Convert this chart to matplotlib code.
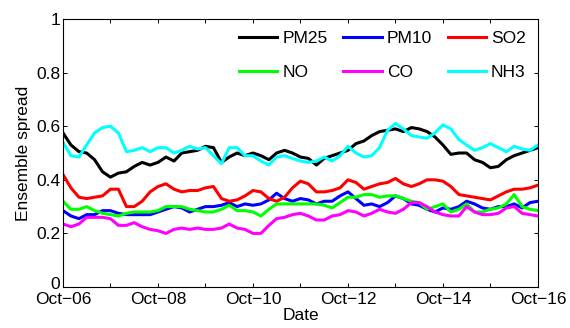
import numpy as np
import pandas as pd
import matplotlib
matplotlib.use('Agg')
import matplotlib.pyplot as plt
import matplotlib.transforms as mtransforms

plt.rcParams['font.family'] = ['Liberation Sans', 'DejaVu Sans']

# two-monthly samples, Oct 2006 .. Oct 2016
dates = pd.date_range('2006-10-01', periods=61, freq='2MS')

pm25 = [0.575, 0.53, 0.505, 0.50, 0.475, 0.43, 0.41, 0.425, 0.43, 0.45, 0.465, 0.455, 0.465, 0.485, 0.47, 0.50,
        0.505, 0.51, 0.525, 0.52, 0.465, 0.485, 0.50, 0.49, 0.50, 0.49, 0.475, 0.50, 0.51, 0.50, 0.485,
        0.48, 0.455, 0.48, 0.49, 0.50, 0.51, 0.535, 0.545, 0.565, 0.58, 0.585, 0.59, 0.58, 0.595, 0.59,
        0.58, 0.56, 0.53, 0.495, 0.50, 0.50, 0.475, 0.465, 0.445, 0.45, 0.475, 0.49, 0.50, 0.51, 0.52]
pm10 = [0.285, 0.265, 0.255, 0.27, 0.27, 0.285, 0.285, 0.275, 0.27, 0.27, 0.27, 0.27, 0.28, 0.29, 0.30, 0.295,
        0.28, 0.29, 0.30, 0.30, 0.305, 0.315, 0.30, 0.31, 0.305, 0.31, 0.325, 0.35, 0.33, 0.32, 0.33,
        0.325, 0.31, 0.32, 0.32, 0.34, 0.355, 0.33, 0.305, 0.31, 0.30, 0.315, 0.34, 0.33, 0.31, 0.305,
        0.29, 0.28, 0.295, 0.29, 0.30, 0.32, 0.31, 0.295, 0.29, 0.30, 0.30, 0.31, 0.295, 0.315, 0.32]
so2 = [0.42, 0.37, 0.335, 0.33, 0.335, 0.34, 0.365, 0.365, 0.30, 0.30, 0.32, 0.355, 0.375, 0.385, 0.365, 0.355,
       0.36, 0.36, 0.37, 0.375, 0.33, 0.32, 0.325, 0.34, 0.36, 0.355, 0.33, 0.32, 0.335, 0.37, 0.395,
       0.385, 0.355, 0.355, 0.36, 0.37, 0.40, 0.39, 0.365, 0.375, 0.385, 0.39, 0.405, 0.385, 0.375, 0.385,
       0.40, 0.40, 0.395, 0.375, 0.345, 0.34, 0.335, 0.33, 0.325, 0.34, 0.355, 0.365, 0.365, 0.37, 0.38]
no = [0.32, 0.29, 0.29, 0.30, 0.285, 0.275, 0.27, 0.265, 0.275, 0.28, 0.28, 0.28, 0.285, 0.30, 0.30, 0.30,
      0.29, 0.285, 0.28, 0.28, 0.29, 0.305, 0.285, 0.285, 0.28, 0.265, 0.29, 0.31, 0.31, 0.31, 0.31,
      0.31, 0.31, 0.305, 0.295, 0.315, 0.335, 0.335, 0.345, 0.345, 0.335, 0.34, 0.34, 0.33, 0.32, 0.315,
      0.29, 0.30, 0.31, 0.28, 0.29, 0.31, 0.28, 0.28, 0.29, 0.295, 0.31, 0.345, 0.30, 0.29, 0.285]
co = [0.235, 0.225, 0.235, 0.26, 0.26, 0.26, 0.255, 0.23, 0.23, 0.24, 0.225, 0.215, 0.21, 0.20, 0.215, 0.22,
      0.215, 0.22, 0.215, 0.215, 0.22, 0.235, 0.22, 0.215, 0.20, 0.20, 0.23, 0.255, 0.26, 0.27, 0.275,
      0.265, 0.25, 0.25, 0.265, 0.27, 0.285, 0.28, 0.265, 0.275, 0.29, 0.28, 0.275, 0.29, 0.315, 0.315,
      0.30, 0.28, 0.27, 0.265, 0.265, 0.30, 0.28, 0.27, 0.27, 0.275, 0.295, 0.30, 0.275, 0.27, 0.265]
nh3 = [0.54, 0.49, 0.485, 0.53, 0.575, 0.595, 0.60, 0.575, 0.505, 0.51, 0.52, 0.505, 0.52, 0.52, 0.50, 0.51,
       0.525, 0.515, 0.52, 0.49, 0.46, 0.52, 0.52, 0.49, 0.49, 0.47, 0.455, 0.485, 0.49, 0.48, 0.47,
       0.465, 0.47, 0.485, 0.47, 0.49, 0.525, 0.50, 0.485, 0.49, 0.52, 0.585, 0.61, 0.59, 0.565, 0.56,
       0.555, 0.575, 0.605, 0.59, 0.55, 0.53, 0.51, 0.52, 0.535, 0.52, 0.505, 0.525, 0.515, 0.51, 0.53]

names = ['PM25', 'PM10', 'SO2', 'NO', 'CO', 'NH3']
series = [pm25, pm10, so2, no, co, nh3]
colors = ['black', 'blue', 'red', '#00ff00', 'magenta', 'cyan']

fig = plt.figure(figsize=(5.7, 3.28), dpi=100)
ax = fig.add_axes([0.1105, 0.125, 0.8333, 0.817])

lines = []
for name, vals, c in zip(names, series, colors):
    ln, = ax.plot(dates, vals, color=c, lw=2.2, label=name)
    lines.append(ln)

ax.set_xlim(pd.Timestamp('2006-10-01'), pd.Timestamp('2016-10-01'))
ax.set_ylim(0, 1)
ax.set_yticks([0, 0.2, 0.4, 0.6, 0.8, 1])
ax.set_yticklabels(['0', '0.2', '0.4', '0.6', '0.8', '1'])

years = pd.date_range('2006-10-01', '2016-10-01', freq='12MS')
ax.set_xticks(years)
ax.set_xticklabels([d.strftime('Oct\u2212%y') if i % 2 == 0 else '' for i, d in enumerate(years)])

ax.tick_params(direction='in', top=True, right=True, length=3, width=0.7, labelsize=12.5)
ax.tick_params(axis='x', pad=3.5)
ax.tick_params(axis='y', pad=2)
for s in ax.spines.values():
    s.set_linewidth(0.8)

# lift the "0" a little so it clears the first date label
zero_lbl = ax.get_yticklabels()[0]
zero_lbl.set_transform(zero_lbl.get_transform() +
                       mtransforms.ScaledTranslation(0, 3 / 72, fig.dpi_scale_trans))

ax.set_xlabel('Date', fontsize=12.5, labelpad=1)
ax.set_ylabel('Ensemble spread', fontsize=12.5, labelpad=4)

# legend laid out row-wise: PM25 PM10 SO2 / NO CO NH3
order = [0, 3, 1, 4, 2, 5]
ax.legend([lines[i] for i in order], [names[i] for i in order], ncol=3, frameon=False,
          loc='upper right', bbox_to_anchor=(1.0, 1.0), fontsize=12.5, handlelength=2.2,
          handletextpad=0.3, columnspacing=0.9, labelspacing=1.05, borderaxespad=0.3)

fig.savefig('out.png', dpi=100)
